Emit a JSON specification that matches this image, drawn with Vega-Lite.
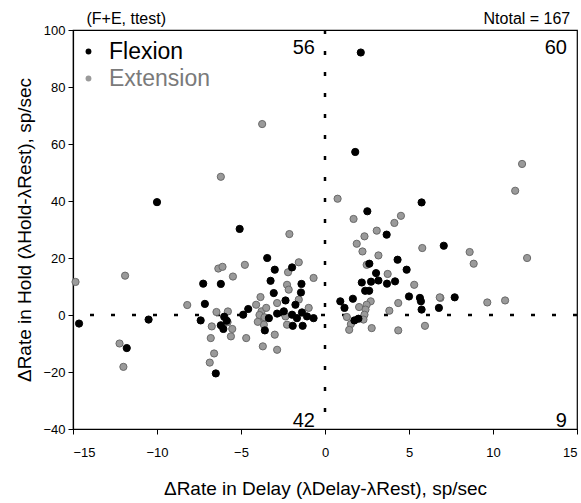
{
  "$schema": "https://vega.github.io/schema/vega-lite/v6.json",
  "autosize": "none",
  "width": 504,
  "height": 399,
  "padding": {"left": 73, "top": 30, "right": 4, "bottom": 74},
  "config": {
    "font": "Liberation Sans",
    "view": {"stroke": "black", "strokeWidth": 1.2},
    "axis": {"grid": false, "domainColor": "black", "tickColor": "black", "labelColor": "black", "titleColor": "black", "labelFontSize": 13, "titleFontSize": 19, "titleFontWeight": "normal", "tickSize": 5, "domainWidth": 1.2}
  },
  "datasets": {
    "pts": [
      {"x": -14.85, "y": 11.6, "group": "Extension"},
      {"x": -11.9, "y": 13.8, "group": "Extension"},
      {"x": -12.23, "y": -10, "group": "Extension"},
      {"x": -12.0, "y": -18.2, "group": "Extension"},
      {"x": -8.2, "y": 3.5, "group": "Extension"},
      {"x": -6.46, "y": 1.05, "group": "Extension"},
      {"x": -5.78, "y": 1.25, "group": "Extension"},
      {"x": -6.74, "y": -4.0, "group": "Extension"},
      {"x": -5.8, "y": -2.5, "group": "Extension"},
      {"x": -6.8, "y": -8.1, "group": "Extension"},
      {"x": -6.6, "y": -13.5, "group": "Extension"},
      {"x": -6.86, "y": -16.7, "group": "Extension"},
      {"x": -5.6, "y": -7.5, "group": "Extension"},
      {"x": -5.52, "y": -4.9, "group": "Extension"},
      {"x": -6.2, "y": 48.5, "group": "Extension"},
      {"x": -3.74, "y": 67.0, "group": "Extension"},
      {"x": -2.12, "y": 28.4, "group": "Extension"},
      {"x": -6.35, "y": 16.3, "group": "Extension"},
      {"x": -6.1, "y": 16.9, "group": "Extension"},
      {"x": -4.77, "y": 17.6, "group": "Extension"},
      {"x": -1.56, "y": 18.5, "group": "Extension"},
      {"x": -2.2, "y": 15.0, "group": "Extension"},
      {"x": -5.48, "y": 13.5, "group": "Extension"},
      {"x": -0.68, "y": 13.0, "group": "Extension"},
      {"x": -2.26, "y": 10.6, "group": "Extension"},
      {"x": -2.16, "y": 8.9, "group": "Extension"},
      {"x": -3.84, "y": 6.3, "group": "Extension"},
      {"x": -1.56, "y": 5.4, "group": "Extension"},
      {"x": -2.85, "y": 4.2, "group": "Extension"},
      {"x": -0.97, "y": 2.5, "group": "Extension"},
      {"x": -4.1, "y": 3.6, "group": "Extension"},
      {"x": -3.78, "y": 1.3, "group": "Extension"},
      {"x": -3.76, "y": -1.6, "group": "Extension"},
      {"x": -3.64, "y": -3.4, "group": "Extension"},
      {"x": -2.35, "y": -0.5, "group": "Extension"},
      {"x": -2.26, "y": -3.4, "group": "Extension"},
      {"x": -2.99, "y": -6.9, "group": "Extension"},
      {"x": -4.69, "y": -8.1, "group": "Extension"},
      {"x": -3.7, "y": -11.0, "group": "Extension"},
      {"x": -2.85, "y": -12.2, "group": "Extension"},
      {"x": -3.9, "y": 0.0, "group": "Extension"},
      {"x": -3.5, "y": 2.5, "group": "Extension"},
      {"x": -3.6, "y": -0.8, "group": "Extension"},
      {"x": -4.0, "y": -2.4, "group": "Extension"},
      {"x": 0.75, "y": 40.8, "group": "Extension"},
      {"x": 1.7, "y": 33.7, "group": "Extension"},
      {"x": 4.52, "y": 34.8, "group": "Extension"},
      {"x": 4.13, "y": 32.3, "group": "Extension"},
      {"x": 3.08, "y": 29.6, "group": "Extension"},
      {"x": 2.35, "y": 27.6, "group": "Extension"},
      {"x": 1.89, "y": 25.0, "group": "Extension"},
      {"x": 2.23, "y": 22.3, "group": "Extension"},
      {"x": 3.18, "y": 20.9, "group": "Extension"},
      {"x": 5.79, "y": 23.5, "group": "Extension"},
      {"x": 2.48, "y": 17.6, "group": "Extension"},
      {"x": 3.73, "y": 14.4, "group": "Extension"},
      {"x": 5.31, "y": 10.6, "group": "Extension"},
      {"x": 6.87, "y": 6.0, "group": "Extension"},
      {"x": 4.36, "y": 4.2, "group": "Extension"},
      {"x": 2.72, "y": 4.8, "group": "Extension"},
      {"x": 2.48, "y": 3.6, "group": "Extension"},
      {"x": 2.41, "y": 1.9, "group": "Extension"},
      {"x": 2.35, "y": 0.1, "group": "Extension"},
      {"x": 2.29, "y": -1.6, "group": "Extension"},
      {"x": 2.03, "y": 2.8, "group": "Extension"},
      {"x": 3.83, "y": 1.5, "group": "Extension"},
      {"x": 1.3, "y": -0.7, "group": "Extension"},
      {"x": 1.54, "y": -3.2, "group": "Extension"},
      {"x": 1.44, "y": -5.2, "group": "Extension"},
      {"x": 2.78, "y": -4.6, "group": "Extension"},
      {"x": 4.36, "y": -5.4, "group": "Extension"},
      {"x": 5.95, "y": -3.8, "group": "Extension"},
      {"x": 11.73, "y": 53.0, "group": "Extension"},
      {"x": 11.32, "y": 43.6, "group": "Extension"},
      {"x": 8.61, "y": 22.1, "group": "Extension"},
      {"x": 8.85, "y": 18.0, "group": "Extension"},
      {"x": 12.03, "y": 20.0, "group": "Extension"},
      {"x": 6.83, "y": 6.2, "group": "Extension"},
      {"x": 9.66, "y": 4.4, "group": "Extension"},
      {"x": 10.72, "y": 5.1, "group": "Extension"},
      {"x": -14.64, "y": -3.0, "group": "Flexion"},
      {"x": -10.0, "y": 39.6, "group": "Flexion"},
      {"x": -11.8, "y": -11.6, "group": "Flexion"},
      {"x": -10.5, "y": -1.6, "group": "Flexion"},
      {"x": -7.25, "y": 11.0, "group": "Flexion"},
      {"x": -6.2, "y": 10.9, "group": "Flexion"},
      {"x": -7.15, "y": 3.9, "group": "Flexion"},
      {"x": -7.4, "y": -1.9, "group": "Flexion"},
      {"x": -6.2, "y": -3.6, "group": "Flexion"},
      {"x": -6.05, "y": -4.9, "group": "Flexion"},
      {"x": -5.85, "y": -2.0, "group": "Flexion"},
      {"x": -6.5, "y": -20.5, "group": "Flexion"},
      {"x": -5.08, "y": 30.2, "group": "Flexion"},
      {"x": -3.44, "y": 20.0, "group": "Flexion"},
      {"x": -2.99, "y": 15.9, "group": "Flexion"},
      {"x": -1.96, "y": 16.7, "group": "Flexion"},
      {"x": -3.24, "y": 12.0, "group": "Flexion"},
      {"x": -1.4, "y": 10.9, "group": "Flexion"},
      {"x": -1.43, "y": 7.9, "group": "Flexion"},
      {"x": -3.05, "y": 7.7, "group": "Flexion"},
      {"x": -2.35, "y": 5.1, "group": "Flexion"},
      {"x": -1.76, "y": 3.6, "group": "Flexion"},
      {"x": -4.57, "y": 2.1, "group": "Flexion"},
      {"x": -4.87, "y": 0.1, "group": "Flexion"},
      {"x": -2.85, "y": 0.5, "group": "Flexion"},
      {"x": -2.45, "y": 1.3, "group": "Flexion"},
      {"x": -1.96, "y": 0.1, "group": "Flexion"},
      {"x": -1.67, "y": -1.1, "group": "Flexion"},
      {"x": -1.37, "y": 0.9, "group": "Flexion"},
      {"x": -1.07, "y": -0.5, "group": "Flexion"},
      {"x": -0.68, "y": -1.1, "group": "Flexion"},
      {"x": -1.92, "y": -3.8, "group": "Flexion"},
      {"x": -1.33, "y": -3.8, "group": "Flexion"},
      {"x": -3.34, "y": -1.1, "group": "Flexion"},
      {"x": -3.58, "y": -5.4, "group": "Flexion"},
      {"x": -6.0, "y": -0.6, "group": "Flexion"},
      {"x": 2.13, "y": 92.1, "group": "Flexion"},
      {"x": 1.8, "y": 57.2, "group": "Flexion"},
      {"x": 5.75, "y": 39.5, "group": "Flexion"},
      {"x": 2.52, "y": 36.4, "group": "Flexion"},
      {"x": 3.67, "y": 28.2, "group": "Flexion"},
      {"x": 7.07, "y": 24.3, "group": "Flexion"},
      {"x": 4.32, "y": 19.4, "group": "Flexion"},
      {"x": 2.64, "y": 18.0, "group": "Flexion"},
      {"x": 4.86, "y": 15.9, "group": "Flexion"},
      {"x": 3.04, "y": 14.7, "group": "Flexion"},
      {"x": 3.18, "y": 12.1, "group": "Flexion"},
      {"x": 2.74, "y": 11.7, "group": "Flexion"},
      {"x": 2.19, "y": 11.4, "group": "Flexion"},
      {"x": 3.69, "y": 11.0, "group": "Flexion"},
      {"x": 4.17, "y": 11.8, "group": "Flexion"},
      {"x": 2.39, "y": 8.5, "group": "Flexion"},
      {"x": 2.63, "y": 8.5, "group": "Flexion"},
      {"x": 0.91, "y": 4.8, "group": "Flexion"},
      {"x": 1.66, "y": 5.7, "group": "Flexion"},
      {"x": 5.0, "y": 6.5, "group": "Flexion"},
      {"x": 5.65, "y": 6.0, "group": "Flexion"},
      {"x": 5.71, "y": 4.8, "group": "Flexion"},
      {"x": 1.16, "y": 2.5, "group": "Flexion"},
      {"x": 5.75, "y": 1.9, "group": "Flexion"},
      {"x": 6.78, "y": 2.5, "group": "Flexion"},
      {"x": 1.99, "y": -1.3, "group": "Flexion"},
      {"x": 1.75, "y": -1.9, "group": "Flexion"},
      {"x": 7.72, "y": 6.2, "group": "Flexion"}
    ],
    "notes": [
      {"x": -0.6, "y": 93.8, "label": "56"},
      {"x": 14.4, "y": 93.8, "label": "60"},
      {"x": -0.6, "y": -37.3, "label": "42"},
      {"x": 14.4, "y": -37.3, "label": "9"}
    ],
    "heads": [
      {"x": -14.2, "y": 100, "label": "(F+E, ttest)", "side": "left"},
      {"x": 14.6, "y": 100, "label": "Ntotal = 167", "side": "right"}
    ]
  },
  "layer": [
    {
      "data": {"values": [{"v": 0}]},
      "mark": {"type": "rule", "color": "black", "strokeWidth": 2.5, "strokeDash": [4, 17]},
      "encoding": {"x": {"field": "v", "type": "quantitative", "scale": {"domain": [-15, 15]}}}
    },
    {
      "data": {"values": [{"v": 0}]},
      "mark": {"type": "rule", "color": "black", "strokeWidth": 2.5, "strokeDash": [4, 17]},
      "encoding": {"y": {"field": "v", "type": "quantitative", "scale": {"domain": [-40, 100]}}}
    },
    {
      "data": {"name": "pts"},
      "mark": {"type": "circle", "opacity": 1, "size": 52, "strokeWidth": 1},
      "encoding": {
        "x": {"field": "x", "type": "quantitative", "scale": {"domain": [-15, 15], "nice": false, "zero": false},
              "axis": {"values": [-15, -10, -5, 0, 5, 10, 15], "title": "ΔRate in Delay (λDelay-λRest), sp/sec", "titlePadding": 20, "labelPadding": 12}},
        "y": {"field": "y", "type": "quantitative", "scale": {"domain": [-40, 100], "nice": false, "zero": false},
              "axis": {"values": [-40, -20, 0, 20, 40, 60, 80, 100], "title": "ΔRate in Hold (λHold-λRest), sp/sec", "titlePadding": 8, "labelPadding": 3}},
        "color": {"field": "group", "type": "nominal",
                  "scale": {"domain": ["Flexion", "Extension"], "range": ["#000000", "#9a9a9a"]},
                  "legend": {"title": null, "orient": "none", "legendX": 4, "legendY": 10, "labelFontSize": 23, "symbolSize": 34, "symbolStrokeWidth": 0, "rowPadding": 3, "labelOffset": 9,
                             "labelColor": {"expr": "datum.label === 'Extension' ? '#7a7a7a' : '#000000'"}}},
        "stroke": {"field": "group", "type": "nominal",
                   "scale": {"domain": ["Flexion", "Extension"], "range": ["#000000", "#6a6a6a"]}, "legend": null}
      }
    },
    {
      "data": {"name": "notes"},
      "mark": {"type": "text", "align": "right", "baseline": "middle", "fontSize": 20, "color": "black"},
      "encoding": {
        "x": {"field": "x", "type": "quantitative"},
        "y": {"field": "y", "type": "quantitative"},
        "text": {"field": "label"}
      }
    },
    {
      "data": {"name": "heads"},
      "transform": [{"filter": "datum.side === 'left'"}],
      "mark": {"type": "text", "align": "left", "baseline": "bottom", "fontSize": 16, "dy": -3, "color": "black", "clip": false},
      "encoding": {
        "x": {"field": "x", "type": "quantitative"},
        "y": {"field": "y", "type": "quantitative"},
        "text": {"field": "label"}
      }
    },
    {
      "data": {"name": "heads"},
      "transform": [{"filter": "datum.side === 'right'"}],
      "mark": {"type": "text", "align": "right", "baseline": "bottom", "fontSize": 16, "dy": -3, "color": "black", "clip": false},
      "encoding": {
        "x": {"field": "x", "type": "quantitative"},
        "y": {"field": "y", "type": "quantitative"},
        "text": {"field": "label"}
      }
    }
  ]
}
